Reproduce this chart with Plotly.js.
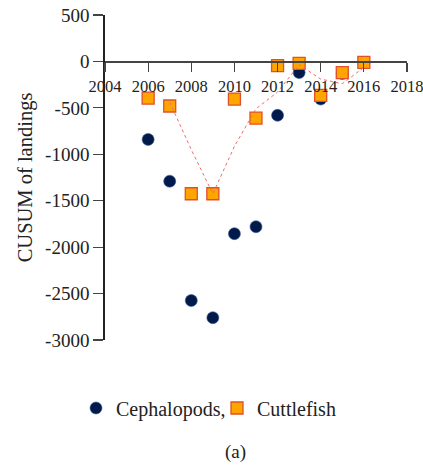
<!DOCTYPE html>
<html><head><meta charset="utf-8">
<script src="https://cdn.plot.ly/plotly-3.0.1.min.js"></script>
<style>html,body{margin:0;padding:0;background:#fff}#chart{width:423px;height:465px}</style>
</head><body><div id="chart"></div>
<script>
const years = [2006, 2007, 2008, 2009, 2010, 2011, 2012, 2013, 2014, 2015, 2016];
const cephalopods = [-840, -1290, -2575, -2760, -1855, -1780, -580, -120, -405, -130, -10];
const cuttlefish = [-395, -480, -1425, -1425, -405, -610, -45, -20, -365, -120, -10];
const trendYears = [2007, 2008, 2009, 2010, 2011, 2012, 2013, 2014, 2015, 2016];
const trendValues = [-440, -950, -1425, -915, -510, -330, -35, -190, -240, -65];
const yTickVals = [500, 0, -500, -1000, -1500, -2000, -2500, -3000];
const yTickText = ['500', '0', '-500', '-1000', '-1500', '-2000', '-2500', '-3000'];
const xTickVals = [2004, 2006, 2008, 2010, 2012, 2014, 2016, 2018];

const yRange = [-3000, 500];
const fam = '"Liberation Serif", "Times New Roman", serif';
const font = {family: fam, size: 19, color: '#222'};
const xfont = {family: fam, size: 16.5, color: '#222'};
const lfont = {family: fam, size: 20, color: '#222'};

const traces = [
  {x: years, y: cephalopods, type: 'scatter', mode: 'markers', name: 'Cephalopods,',
   marker: {symbol: 'circle', size: 12, color: '#021a4a', line: {color: '#3a5a9a', width: 0.6}}},
  {x: years, y: cuttlefish, type: 'scatter', mode: 'markers', name: 'Cuttlefish',
   marker: {symbol: 'square', size: 12, color: '#ffa500', line: {color: '#e0502a', width: 1.3}}},
  {x: trendYears, y: trendValues, type: 'scatter', mode: 'lines', showlegend: false, hoverinfo: 'skip',
   line: {color: '#f26a6a', width: 1, dash: 'dot'}}
];

const layout = {
  width: 423, height: 465,
  margin: {l: 105, r: 16, t: 15, b: 125},
  paper_bgcolor: '#fff', plot_bgcolor: '#fff',
  font: font,
  showlegend: true,
  legend: {orientation: 'h', xref: 'container', yref: 'container', x: (96 - 20) / 423, xanchor: 'left',
           y: 1 - 408/465, yanchor: 'middle', font: lfont, itemwidth: 30, tracegroupgap: 0,
           entrywidth: 96, entrywidthmode: 'pixels'},
  xaxis: {range: [2004, 2018.001], tickvals: xTickVals, ticks: 'outside', ticklen: 9, tickwidth: 1.2,
          tickcolor: '#444', showline: true, linecolor: '#444', linewidth: 1.3, showgrid: false,
          zeroline: false, anchor: 'free', position: (0 - yRange[0]) / (yRange[1] - yRange[0]),
          tickfont: xfont, automargin: false, ticklabeloverflow: 'allow'},
  yaxis: {range: yRange, tickmode: 'array', tickvals: yTickVals, ticktext: yTickText,
          ticks: 'outside', ticklen: 10, tickwidth: 1.2, tickcolor: '#444',
          showline: true, linecolor: '#222', linewidth: 1.8, showgrid: false, zeroline: false,
          tickfont: font, automargin: false, ticklabeloverflow: 'allow',
          title: {text: 'CUSUM of landings', font: {family: fam, size: 20.5, color: '#222'}, standoff: 7}},
  annotations: [{text: '(a)', xref: 'paper', yref: 'paper', x: (235 - 105) / 302, y: (340 - 452) / 325,
                 xanchor: 'center', yanchor: 'middle', showarrow: false, font: font}]
};

Plotly.newPlot('chart', traces, layout, {displayModeBar: false, staticPlot: true});
</script></body></html>
